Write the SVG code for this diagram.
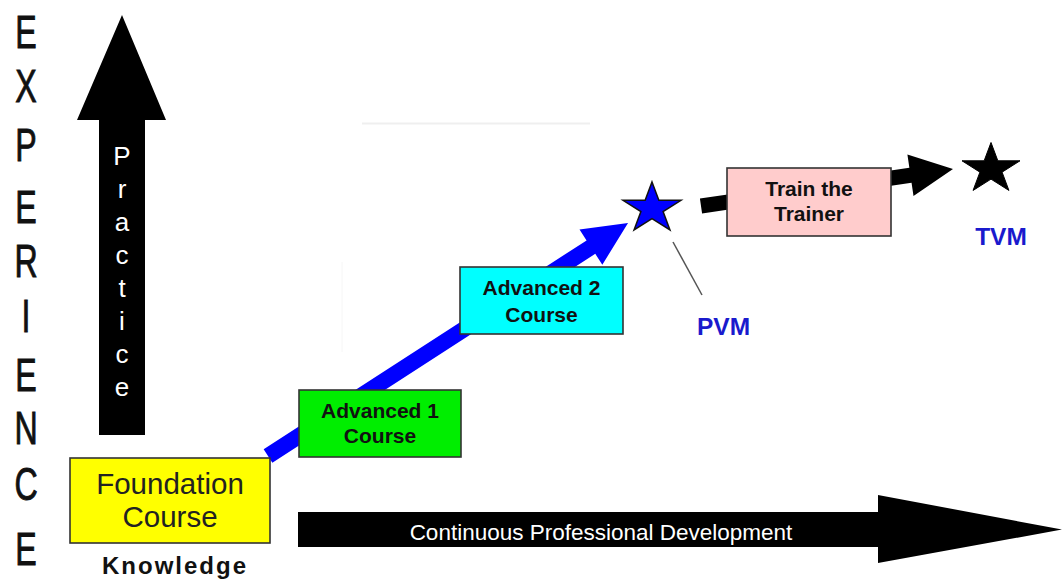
<svg xmlns="http://www.w3.org/2000/svg" xmlns:xlink="http://www.w3.org/1999/xlink" width="1063" height="580" viewBox="0 0 1063 580">
<style>
text{font-family:"Liberation Sans",Arial,sans-serif}
.exp{font-size:46px;fill:#111;stroke:#111;stroke-width:0.9;text-anchor:middle}
.prac{font-size:26px;fill:#fff;text-anchor:middle}
.box{stroke:#333;stroke-width:1.6}
.reg{font-size:29.5px;fill:#222;text-anchor:middle}
.bold{font-size:21px;font-weight:bold;fill:#111;text-anchor:middle}
.vm{font-size:24.5px;font-weight:bold;fill:#1a1acd;text-anchor:middle}
.cpd{font-size:22.5px;fill:#fff;text-anchor:middle}
.faint{stroke:#efefef;stroke-width:2}
</style>
<defs>
<path id="star" d="M0,-26.5 L6.85,-8.19 L29,-8.19 L11.08,3.13 L17.93,21.44 L0,10.12 L-17.93,21.44 L-11.08,3.13 L-29,-8.19 L-6.85,-8.19Z"/>
</defs>
<rect width="1063" height="580" fill="#fff"/>
<line class="faint" x1="362" y1="123.5" x2="590" y2="123.5"/>
<line stroke="#f6f6f6" stroke-width="1" x1="342" y1="262" x2="342" y2="352"/>

<g id="experience-label" transform="translate(26,0) scale(0.7,1)">
<text class="exp" x="0" y="48">E</text>
<text class="exp" x="0" y="102">X</text>
<text class="exp" x="0" y="161">P</text>
<text class="exp" x="0" y="223">E</text>
<text class="exp" x="0" y="277">R</text>
<text class="exp" x="0" y="332">I</text>
<text class="exp" x="0" y="391">E</text>
<text class="exp" x="0" y="444">N</text>
<text class="exp" x="0" y="500">C</text>
<text class="exp" x="0" y="565">E</text>
</g>

<g id="practice-arrow">
<polygon points="99,435 99,120 77,120 122,15 166,120 145,120 145,435" fill="#000"/>
<text class="prac" x="122" y="165">P</text>
<text class="prac" x="122" y="198">r</text>
<text class="prac" x="122" y="231">a</text>
<text class="prac" x="122" y="264">c</text>
<text class="prac" x="122" y="297">t</text>
<text class="prac" x="122" y="330">i</text>
<text class="prac" x="122" y="363">c</text>
<text class="prac" x="122" y="396">e</text>
</g>

<g id="cpd-arrow">
<polygon points="298,512 878,512 878,495 1062,529.5 878,563 878,547 298,547" fill="#000"/>
<text class="cpd" x="601" y="540">Continuous Professional Development</text>
</g>

<g id="connectors">
<polygon transform="translate(268,456) rotate(-32.9)" points="0,-8 384.6,-8 384.6,-21 428.8,0 384.6,21 384.6,8 0,8" fill="#0000ff"/>
<polygon transform="translate(701,206) rotate(-8.35)" points="0,-7.5 211.7,-7.5 211.7,-21 254.7,0 211.7,21 211.7,7.5 0,7.5" fill="#000"/>
<line x1="673" y1="242" x2="702" y2="295" stroke="#555" stroke-width="1.5"/>
</g>

<g id="foundation">
<rect class="box" x="70" y="458" width="200" height="85" fill="#ffff00"/>
<text class="reg" x="170" y="494">Foundation</text>
<text class="reg" x="170" y="527">Course</text>
</g>

<g id="knowledge">
<text x="175" y="574" font-size="24" font-weight="bold" fill="#111" text-anchor="middle" letter-spacing="2">Knowledge</text>
</g>

<g id="advanced1">
<rect class="box" x="299" y="390" width="162" height="67" fill="#00ee00"/>
<text class="bold" x="380" y="418">Advanced 1</text>
<text class="bold" x="380" y="443">Course</text>
</g>

<g id="advanced2">
<rect class="box" x="460" y="267" width="163" height="67" fill="#00ffff"/>
<text class="bold" x="541.5" y="295">Advanced 2</text>
<text class="bold" x="541.5" y="322">Course</text>
</g>

<g id="train-the-trainer">
<rect class="box" x="727" y="168" width="164" height="68" fill="#ffcccc"/>
<text class="bold" x="809" y="196">Train the</text>
<text class="bold" x="809" y="221">Trainer</text>
</g>

<g id="pvm">
<use xlink:href="#star" href="#star" x="652" y="208.5" fill="#0000ff" stroke="#111" stroke-width="1.5"/>
<text class="vm" x="723.5" y="335">PVM</text>
</g>

<g id="tvm">
<use xlink:href="#star" href="#star" x="991" y="169" fill="#000" stroke="#000" stroke-width="1"/>
<text class="vm" x="1001" y="245">TVM</text>
</g>
</svg>
